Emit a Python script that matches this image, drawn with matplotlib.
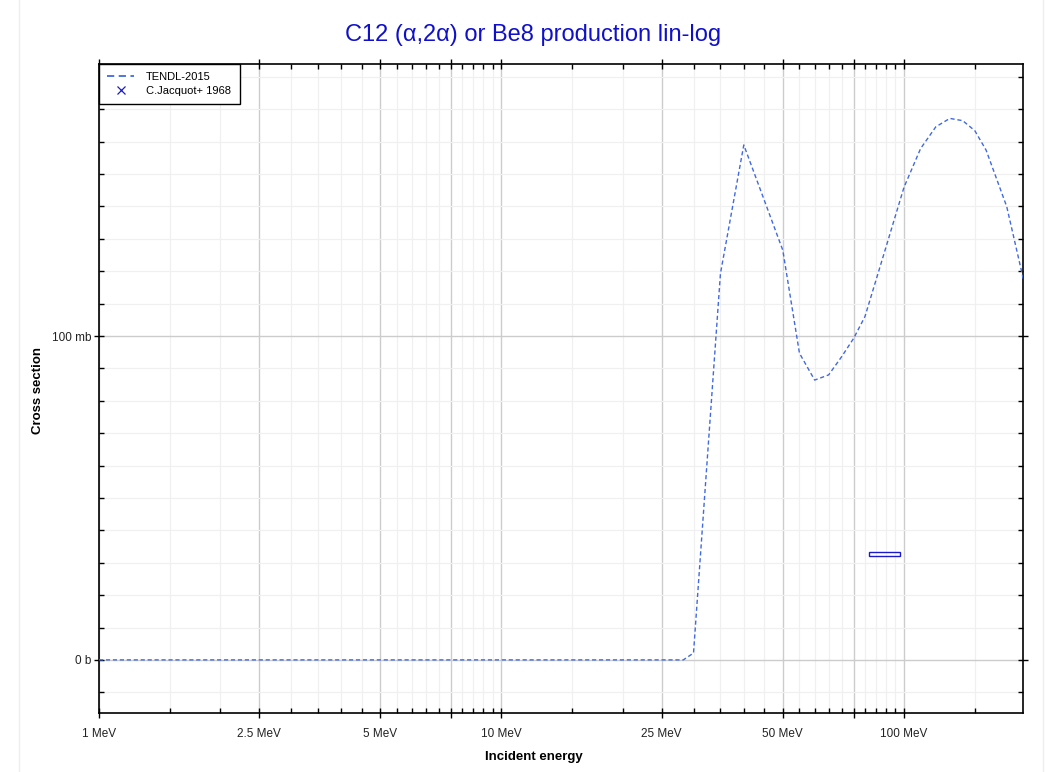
import matplotlib
matplotlib.use("Agg")
import matplotlib.pyplot as plt
from matplotlib.lines import Line2D
from matplotlib.patches import Rectangle
from matplotlib.ticker import FixedLocator, NullFormatter

plt.rcParams['font.family'] = ['Liberation Sans', 'DejaVu Sans']

# TENDL-2015 evaluation (energy in MeV, cross section in mb)
tendl_energy = [1, 28.3, 30, 35, 40, 50, 55, 60, 65, 70, 75, 80, 90,
                100, 110, 120, 130, 140, 150, 160, 180, 200]
tendl_xs = [0, 0, 2.1, 119.3, 159, 126.5, 94.7, 86.4, 88, 93.6, 99.3, 106, 127,
            145.9, 157.9, 164.6, 167.2, 166.5, 163.4, 157.4, 140, 115.2]

# C.Jacquot+ 1968 measurement
exp_energy = [90]
exp_denergy = [8]
exp_xs = [32.7]
exp_dxs = [0.5]

x_major = [1, 2.5, 5, 7.5, 10, 25, 50, 75, 100]
x_major_labels = ["1 MeV", "2.5 MeV", "5 MeV", "", "10 MeV", "25 MeV", "50 MeV", "", "100 MeV"]
x_minor = [1.5, 2, 3, 3.5, 4, 4.5, 5.5, 6, 6.5, 7, 8, 8.5, 9, 9.5,
           15, 20, 30, 35, 40, 45, 55, 60, 65, 70, 80, 85, 90, 95, 150]
y_major = [0, 100]
y_major_labels = ["0 b", "100 mb"]
y_minor = [-10, 10, 20, 30, 40, 50, 60, 70, 80, 90, 110, 120, 130, 140, 150, 160, 170, 180]


def plot():
    fig = plt.figure(figsize=(10.49, 7.72), dpi=100)
    ax = fig.add_axes([99 / 1049, 1 - 713 / 772, 924 / 1049, 649 / 772])

    ax.plot(tendl_energy, tendl_xs, color="#4169e1", lw=1, linestyle=(0, (3, 2)), zorder=3)
    for e, de, s, ds in zip(exp_energy, exp_denergy, exp_xs, exp_dxs):
        ax.add_patch(Rectangle((e - de, s - ds), 2 * de, 2 * ds, fill=False,
                               edgecolor="#1a1acc", lw=1, zorder=4))

    ax.set_xscale("log")
    ax.set_xlim(1, 197.6)
    ax.set_ylim(-16.4, 184)

    ax.xaxis.set_major_locator(FixedLocator(x_major))
    ax.set_xticklabels(x_major_labels)
    ax.xaxis.set_minor_locator(FixedLocator(x_minor))
    ax.xaxis.set_minor_formatter(NullFormatter())
    ax.yaxis.set_major_locator(FixedLocator(y_major))
    ax.set_yticklabels(y_major_labels)
    ax.yaxis.set_minor_locator(FixedLocator(y_minor))

    ax.grid(which="major", color="#cccccc", lw=1, zorder=0)
    ax.grid(which="minor", color="#f0f0f0", lw=0.9, zorder=0)
    ax.set_axisbelow(True)

    ax.tick_params(which="major", direction="inout", length=7, width=1,
                   top=True, right=True, labelsize=8.5, labelcolor="#222222")
    ax.tick_params(which="minor", direction="in", length=3.5, width=1, top=True, right=True)
    ax.tick_params(axis="x", which="major", pad=7)
    ax.tick_params(axis="y", which="major", pad=2)
    for sp in ax.spines.values():
        sp.set_linewidth(1.2)
        sp.set_color("black")

    handles = [Line2D([], [], color="#4169e1", lw=1.3, dashes=(4, 2.5)),
               Line2D([], [], color="#1a1acc", marker="x", ls="none", markersize=6, mew=0.9)]
    leg = ax.legend(handles, ["TENDL-2015", "C.Jacquot+ 1968"], loc="upper left",
                    borderaxespad=0, fancybox=False, framealpha=1, edgecolor="black",
                    fontsize=8, handlelength=2.4, handletextpad=1.1, labelspacing=0.3,
                    borderpad=0.75)
    leg.get_frame().set_linewidth(1)

    fig.text(533 / 1049, 1 - 35 / 772, "C12 (α,2α) or Be8 production lin-log",
             ha="center", va="center", fontsize=17, color="#1010cc")
    fig.text(534 / 1049, 1 - 757 / 772, "Incident energy", ha="center", va="center",
             fontsize=9.5, fontweight="bold")
    fig.text(38 / 1049, 1 - 390 / 772, "Cross section", ha="center", va="center",
             rotation=90, fontsize=9.5, fontweight="bold")

    # faint panel border
    for xp in (19 / 1049, 1043 / 1049):
        fig.add_artist(Line2D([xp, xp], [0, 1], color="#eeeeee", lw=1))

    fig.savefig("out.png", dpi=100)


if __name__ == "__main__":
    plot()
